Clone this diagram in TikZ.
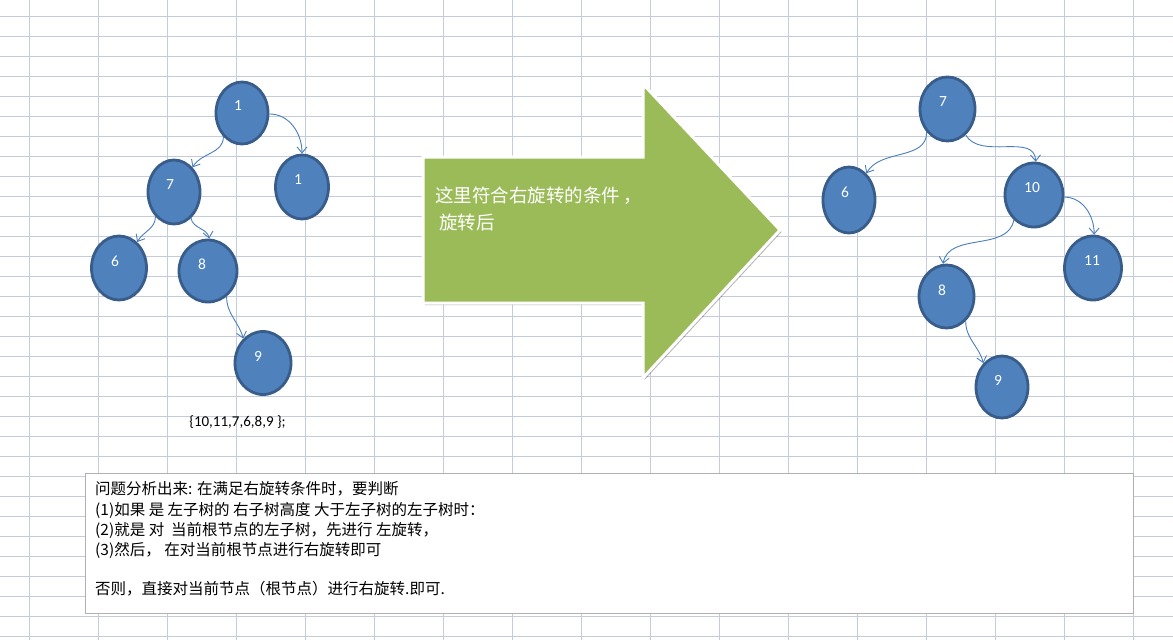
\documentclass[tikz,border=0pt]{standalone}
\usepackage{fontspec}
\setmainfont{Carlito}
\newfontfamily\cjk{Noto Sans CJK SC}
\usetikzlibrary{shapes.geometric,arrows.meta,shadows}
\definecolor{gridc}{HTML}{C3CBDD}
\definecolor{nodefill}{HTML}{4F81BD}
\definecolor{nodeedge}{HTML}{385D8A}
\definecolor{edgec}{HTML}{4A7EBB}
\definecolor{arrowgreen}{HTML}{9BBB59}
\definecolor{boxedge}{HTML}{B0B0B0}
\begin{document}
\begin{tikzpicture}[x=1pt,y=-1pt,
  gridline/.style={draw=gridc,line width=1pt},
  tnode/.style={ellipse,draw=nodeedge,fill=nodefill,line width=2.8pt,inner sep=0pt},
  tlabel/.style={text=white,font=\fontsize{15.5}{18}\selectfont,inner sep=0pt},
  conn/.style={draw=edgec,line width=0.9pt,-{Straight Barb[length=6pt,width=10pt]}},
  arrowtext/.style={text=white,font=\cjk\fontsize{18.5}{27}\selectfont,inner sep=0pt,anchor=base west},
  notetext/.style={text=black,font=\cjk\fontsize{15.5}{20}\selectfont,inner sep=0pt,anchor=base west}
]
\useasboundingbox (0,0) rectangle (1173,640);
\fill[white] (0,0) rectangle (1173,640);
% grid
\foreach \x in {29,98,...,1133} \draw[gridline] (\x,0) -- (\x,640);
\foreach \y in {16,36,...,636} \draw[gridline] (0,\y) -- (1173,\y);

% big arrow
\path[fill=arrowgreen,draw=white,line width=3pt,line join=miter,
  drop shadow={shadow xshift=1.5pt,shadow yshift=-2pt,opacity=0.3,fill=black}]
  (423,157) -- (643,157) -- (643,84) -- (780,230) -- (643,378) -- (643,303) -- (423,303) -- cycle;
\node[arrowtext] (ar1) at (435,202.5) {这里符合右旋转的条件\,，};
\node[arrowtext] (ar2) at (439,229.5) {旋转后};

% left tree
\node[tnode,minimum width=52pt,minimum height=62pt] (r1) at (242,113) {};
\node[tnode,minimum width=53pt,minimum height=64pt] (a1) at (302,187) {};
\node[tnode,minimum width=52pt,minimum height=64pt] (a7) at (174,192) {};
\node[tnode,minimum width=55pt,minimum height=64pt] (a6) at (119,268) {};
\node[tnode,minimum width=58pt,minimum height=62pt] (a8) at (208,271) {};
\node[tnode,minimum width=56pt,minimum height=63pt] (a9) at (263,363) {};
\node[tlabel] (r1t) at (238,106) {1};
\node[tlabel] (a1t) at (298,180) {1};
\node[tlabel] (a7t) at (170,185) {7};
\node[tlabel] (a6t) at (115,261) {6};
\node[tlabel] (a8t) at (202,264) {8};
\node[tlabel] (a9t) at (258,356) {9};
\draw[conn] (r1.-2) to[out=0,in=90] (a1.90);
\draw[conn] (r1.232) to[out=-90,in=60] (a7.53);
\draw[conn] (a7.233) to[out=-90,in=60] (a6.55);
\draw[conn] (a7.-57) to[out=-80,in=100] (a8.88);
\draw[conn] (a8.-54) to[out=-90,in=105] (a9.129);
\node[text=black,font=\fontsize{15}{18}\selectfont,inner sep=0pt,anchor=base] (seq) at (237.5,426) {\{10,11,7,6,8,9 \};};

% right tree
\node[tnode,minimum width=55pt,minimum height=64pt] (b7) at (947.5,109) {};
\node[tnode,minimum width=52pt,minimum height=66pt] (b6) at (849,200) {};
\node[tnode,minimum width=58pt,minimum height=64pt] (b10) at (1034,195) {};
\node[tnode,minimum width=57pt,minimum height=64pt] (b11) at (1093,268) {};
\node[tnode,minimum width=55pt,minimum height=63pt] (b8) at (946.5,296.5) {};
\node[tnode,minimum width=52pt,minimum height=62pt] (b9) at (1002,387) {};
\node[tlabel] (b7t) at (943,102) {7};
\node[tlabel] (b6t) at (845,192) {6};
\node[tlabel] (b10t) at (1032,188) {10};
\node[tlabel] (b11t) at (1092,261) {11};
\node[tlabel] (b8t) at (942,290) {8};
\node[tlabel] (b9t) at (998,380) {9};
\draw[conn] (b7.228) to[out=-90,in=60] (b6.57);
\draw[conn] (b7.-55) to[out=-60,in=92] (b10.87);
\draw[conn] (b10.-4) to[out=0,in=90] (b11.88);
\draw[conn] (b10.231) to[out=-100,in=80] (b8.96);
\draw[conn] (b8.-52) to[out=-90,in=105] (b9.128);

% note box
\draw[fill=white,draw=boxedge,line width=1pt] (85.5,473) rectangle (1133,613);
\node[notetext] (n1) at (95,494.5) {问题分析出来: 在满足右旋转条件时，要判断};
\node[notetext] (n2) at (95,515) {(1)如果 是 左子树的 右子树高度 大于左子树的左子树时：};
\node[notetext] (n3) at (95,535.5) {(2)就是 对\ \ 当前根节点的左子树，先进行 左旋转，};
\node[notetext] (n4) at (95,555.5) {(3)然后，\ 在对当前根节点进行右旋转即可};
\node[notetext] (n5) at (95,594.5) {否则，直接对当前节点（根节点）进行右旋转.即可.};
\end{tikzpicture}
\end{document}
